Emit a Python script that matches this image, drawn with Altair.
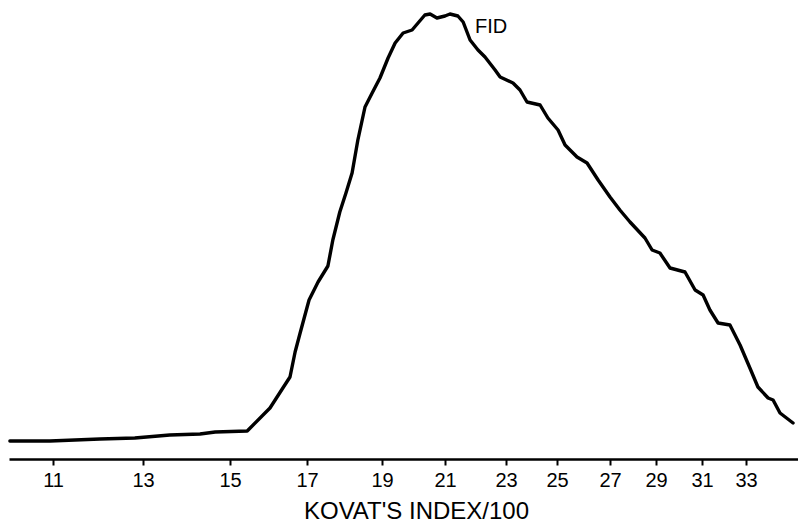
import altair as alt
import pandas as pd

# Kovats index (x) and detector response (arbitrary units)
kovats = [10.02, 10.93, 11.92, 12.79, 13.57, 14.25, 14.63, 15.40, 15.93, 16.29,
          16.50, 16.65, 16.79, 17.05, 17.27, 17.51, 17.63, 17.80, 17.95, 18.12,
          18.29, 18.50, 18.71, 18.94, 19.19, 19.41, 19.66, 19.94, 20.13, 20.35,
          20.52, 20.74, 21.00, 21.15, 21.39, 21.55, 21.76, 22.00, 22.25, 22.61,
          22.79, 23.28, 23.56, 23.84, 24.35, 24.65, 25.04, 25.31, 25.77, 26.15,
          26.56, 27.00, 27.43, 27.87, 28.52, 28.83, 29.17, 29.61, 30.26, 30.70,
          31.05, 31.36, 31.73, 32.27, 32.73, 33.18, 33.55, 34.02, 34.25, 34.57,
          35.17]
response = [18, 18, 20, 21, 24, 25, 27, 28, 51, 71,
            82, 107, 125, 159, 177, 193, 219, 247, 266, 286,
            319, 352, 366, 381, 401, 416, 426, 429, 436, 444,
            445, 441, 443, 445, 443, 437, 419, 409, 402, 389,
            382, 376, 369, 357, 354, 341, 329, 314, 302, 296,
            279, 262, 249, 237, 221, 209, 206, 191, 187, 169,
            164, 149, 136, 134, 114, 91, 72, 61, 59, 46,
            36]

tick_values = list(range(11, 34))

# the hand-drawn Kovats axis is not linear: piecewise scale
scale_domain = [10] + tick_values + [35.4]
scale_range = [9, 53, 104, 143, 190, 230, 273, 307, 348, 382, 414, 445, 478,
               506, 531, 557, 583, 610, 633, 656, 679, 702, 724, 746, 798]

label_text = ["FID"]
label_x = [21.91]
label_y = [432]

df = pd.DataFrame({"k": kovats, "r": response})
lab = pd.DataFrame({"t": label_text, "k": label_x, "r": label_y})

xscale = alt.Scale(domain=scale_domain, range=scale_range, zero=False, nice=False)
yscale = alt.Scale(domain=[0, 459], zero=False, nice=False)

line = alt.Chart(df).mark_line(color="black", strokeWidth=3.4, strokeJoin="round", strokeCap="round").encode(
    x=alt.X("k:Q", scale=xscale,
            axis=alt.Axis(values=tick_values,
                          labelExpr="datum.value % 2 == 1 ? datum.label : ''",
                          title="KOVAT'S  INDEX/100",
                          grid=False, domainColor="black", domainWidth=2.5,
                          tickColor="black", tickWidth=2, tickSize=6,
                          labelFont="Liberation Sans", labelFontSize=20, labelColor="black",
                          labelPadding=5, labelFlush=False, labelOverlap=False,
                          titleFont="Liberation Sans", titleFontSize=24, titleFontWeight="normal",
                          titleColor="black", titleX=416, titleY=59,
                          titleAlign="center", titleBaseline="alphabetic")),
    y=alt.Y("r:Q", scale=yscale, axis=None),
)

text = alt.Chart(lab).mark_text(align="left", baseline="middle", font="Liberation Sans",
                                fontSize=20, color="black").encode(
    x=alt.X("k:Q", scale=xscale),
    y=alt.Y("r:Q", scale=yscale),
    text="t:N",
)

chart = alt.layer(line, text).properties(
    width=798, height=459,
    autosize=alt.AutoSizeParams(type="none"),
    padding={"left": 0, "top": 0, "right": 0, "bottom": 65},
    background="white",
).configure_view(stroke=None)

chart.save("out.html", embed_options={"renderer": "svg", "actions": False})
